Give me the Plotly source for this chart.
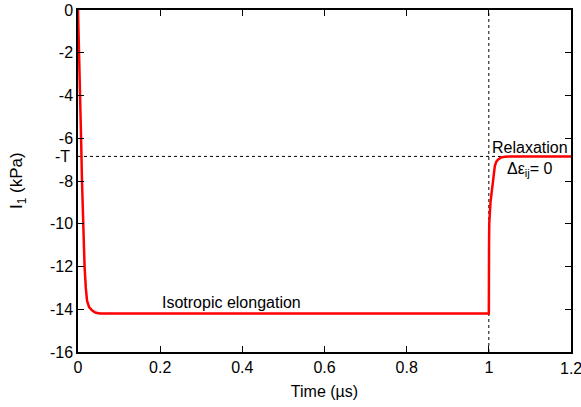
import plotly.graph_objects as go

# Data
time_us = [0, 0.003, 0.0055, 0.0075, 0.0097, 0.0125, 0.016, 0.019, 0.022, 0.027,
           0.034, 0.042, 0.053, 0.1, 0.5, 1.0,
           1.0, 1.0005, 1.001, 1.004, 1.0075, 1.011, 1.0146, 1.018, 1.022, 1.03,
           1.04, 1.1, 1.2]
i1_kpa = [0, -2.0, -4.0, -6.0, -8.0, -10.0, -12.0, -13.0, -13.6, -13.9,
          -14.05, -14.15, -14.2, -14.2, -14.2, -14.2,
          -14.2, -11.0, -10.0, -9.0, -8.4, -7.8, -7.3, -7.1, -7.0, -6.9,
          -6.86, -6.85, -6.85]
T_level = -6.85
x_ticks = [0, 0.2, 0.4, 0.6, 0.8, 1, 1.2]
x_ticktext = ["0", "0.2", "0.4", "0.6", "0.8", "1", ""]
x_last_label = "1.2"
y_ticks = [0, -2, -4, -6, -8, -10, -12, -14, -16]
y_ticktext = ["0", "-2", "-4", "-6", "-8", "-10", "-12", "-14", "-16"]

font = "Liberation Sans, Arial, sans-serif"

fig = go.Figure()
fig.add_trace(go.Scatter(x=time_us, y=i1_kpa, mode="lines",
                         line=dict(color="#ff0000", width=2.5), showlegend=False))

fig.add_shape(type="line", x0=0, x1=1.2, y0=T_level, y1=T_level, xref="x", yref="y",
              line=dict(color="black", width=1, dash="dot"), layer="below")
fig.add_shape(type="line", x0=1, x1=1, y0=-16, y1=0, xref="x", yref="y",
              line=dict(color="black", width=1, dash="dot"), layer="below")

fig.update_layout(
    width=581, height=407,
    margin=dict(l=78, r=10, t=10, b=55, autoexpand=False),
    paper_bgcolor="white", plot_bgcolor="white",
    font=dict(family=font, size=16, color="black"),
    xaxis=dict(range=[0, 1.2], tickvals=x_ticks, ticktext=x_ticktext, automargin=False,
               ticks="inside", ticklen=6, tickcolor="black", tickwidth=1,
               showline=True, linecolor="black", linewidth=1.5, mirror="ticks",
               showgrid=False, zeroline=False,
               title=dict(text="Time (µs)", font=dict(size=16), standoff=11)),
    yaxis=dict(range=[-16, 0], tickvals=y_ticks, ticktext=y_ticktext, automargin=False,
               ticks="inside", ticklen=6, tickcolor="black", tickwidth=1,
               showline=True, linecolor="black", linewidth=1.5, mirror="ticks",
               showgrid=False, zeroline=False),
    annotations=[
        dict(text=x_last_label, xref="x", yref="paper", x=1.2, y=-0.018,
             xanchor="center", yanchor="top", showarrow=False, font=dict(size=16)),
        dict(text="I<sub>1</sub> (kPa)", xref="paper", yref="paper",
             x=-60 / 493, y=0.5, textangle=-90, showarrow=False,
             font=dict(size=17), xanchor="center", yanchor="middle"),
        dict(text="-T", xref="paper", yref="y", x=-0.012, y=T_level,
             xanchor="right", yanchor="middle", showarrow=False, font=dict(size=16)),
        dict(text="Isotropic elongation", xref="x", yref="y", x=0.374, y=-13.68,
             showarrow=False, font=dict(size=16), xanchor="center", yanchor="middle"),
        dict(text="Relaxation", xref="x", yref="y", x=1.1, y=-6.45,
             showarrow=False, font=dict(size=16), xanchor="center", yanchor="middle"),
        dict(text="Δε<sub>ij</sub>= 0", xref="x", yref="y", x=1.1, y=-7.45,
             showarrow=False, font=dict(size=16, color="black"),
             xanchor="center", yanchor="middle"),
    ],
)

fig.write_html("out.html")
